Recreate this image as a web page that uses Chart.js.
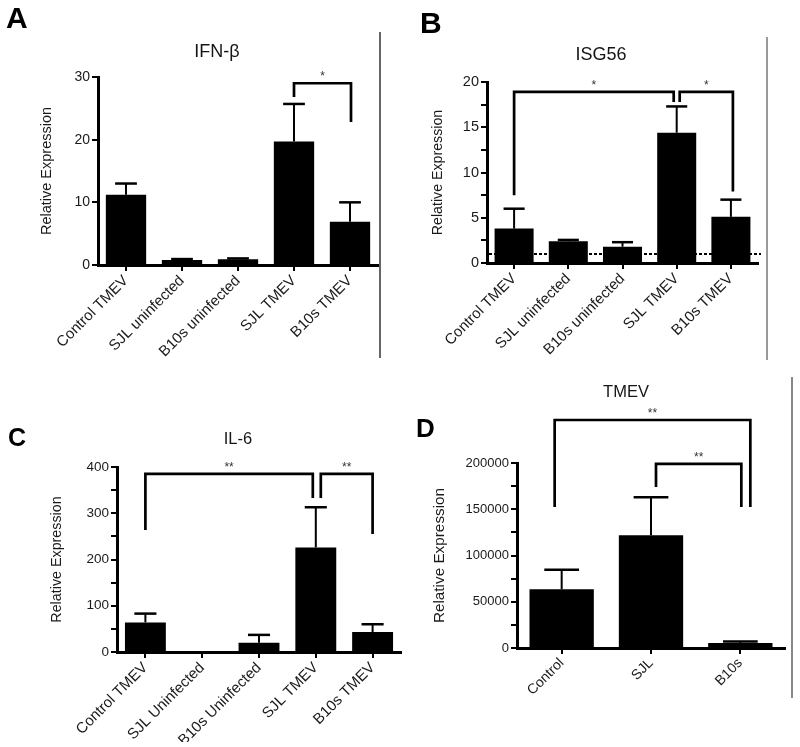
<!DOCTYPE html>
<html><head><meta charset="utf-8">
<script src="https://cdn.jsdelivr.net/npm/chart.js@4.4.1/dist/chart.umd.min.js"></script>
<style>
html,body{margin:0;padding:0;background:#fff;width:800px;height:747px;overflow:hidden;}
body{position:relative;font-family:"Liberation Sans",Arial,Helvetica,sans-serif;}
canvas{position:absolute;}
.txt{position:absolute;line-height:1;white-space:nowrap;color:#151515;}
.letter{font-weight:bold;color:#000;}
.vline{position:absolute;width:2px;}
</style></head><body>
<script>
// ---------- data ----------
const catsIFN = ['Control TMEV','SJL uninfected','B10s uninfected','SJL TMEV','B10s TMEV'];
const ifnbMean = [11.2, 0.8, 0.9, 19.7, 6.9];
const ifnbErr  = [1.8, 0.15, 0.15, 6.0, 3.1];
const ifnbTicks = [0, 10, 20, 30];

const catsISG = ['Control TMEV','SJL uninfected','B10s uninfected','SJL TMEV','B10s TMEV'];
const isg56Mean = [3.8, 2.4, 1.8, 14.4, 5.1];
const isg56Err  = [2.2, 0.15, 0.5, 2.9, 1.9];
const isg56Ticks = [0, 5, 10, 15, 20];
const isg56Baseline = 1;

const catsIL6 = ['Control TMEV','SJL Uninfected','B10s Uninfected','SJL TMEV','B10s TMEV'];
const il6Mean = [64, 0, 20, 226, 43];
const il6Err  = [19, 0, 17, 87, 17];
const il6Ticks = [0, 100, 200, 300, 400];

const catsTMEV = ['Control','SJL','B10s'];
const tmevMean = [63500, 122000, 5500];
const tmevErr  = [21000, 41000, 1500];
const tmevTicks = [0, 50000, 100000, 150000, 200000];

const FONT = '"Liberation Sans", Arial, Helvetica, sans-serif';

// ---------- plugins ----------
const annotPlugin = {
  id: 'annot',
  beforeDatasetsDraw(chart) {
    const cfg = chart.options.plugins.annot;
    if (cfg.refLine === undefined) return;
    const ctx = chart.ctx, ys = chart.scales.y, a = chart.chartArea;
    const y = ys.getPixelForValue(cfg.refLine);
    ctx.save();
    ctx.strokeStyle = '#000'; ctx.lineWidth = 2; ctx.setLineDash([3, 2]);
    ctx.beginPath(); ctx.moveTo(a.left + 2, y); ctx.lineTo(a.right + 3, y); ctx.stroke();
    ctx.restore();
  },
  afterDatasetsDraw(chart) {
    const cfg = chart.options.plugins.annot;
    const ctx = chart.ctx, ys = chart.scales.y;
    const meta = chart.getDatasetMeta(0);
    const vals = chart.data.datasets[0].data;
    ctx.save();
    ctx.strokeStyle = '#000';
    meta.data.forEach((bar, i) => {
      const e = cfg.err[i];
      if (!e) return;
      const top = ys.getPixelForValue(vals[i] + e);
      ctx.lineWidth = 2;
      ctx.beginPath(); ctx.moveTo(bar.x, bar.y); ctx.lineTo(bar.x, top); ctx.stroke();
      const hw = bar.width * 0.27;
      ctx.lineWidth = 2.5;
      ctx.beginPath(); ctx.moveTo(bar.x - hw, top); ctx.lineTo(bar.x + hw, top); ctx.stroke();
    });
    (cfg.brackets || []).forEach(b => {
      const x1 = meta.data[b.from].x + (b.dx1 || 0);
      const x2 = meta.data[b.to].x + (b.dx2 || 0);
      const yt = ys.getPixelForValue(b.top);
      ctx.lineWidth = 2.7; ctx.lineJoin = 'miter'; ctx.lineCap = 'butt';
      ctx.beginPath();
      ctx.moveTo(x1, ys.getPixelForValue(b.y1));
      ctx.lineTo(x1, yt); ctx.lineTo(x2, yt);
      ctx.lineTo(x2, ys.getPixelForValue(b.y2));
      ctx.stroke();
      ctx.fillStyle = '#333';
      ctx.font = '12px ' + FONT;
      ctx.textAlign = 'center'; ctx.textBaseline = 'alphabetic';
      ctx.fillText(b.label, (x1 + x2) / 2, yt - 3);
    });
    ctx.restore();
  }
};

function addText(text, x, y, size, cls, center) {
  const d = document.createElement('div');
  d.className = 'txt ' + (cls || '');
  d.textContent = text;
  d.style.fontSize = size + 'px';
  d.style.top = y + 'px';
  if (center) { d.style.left = (x - 200) + 'px'; d.style.width = '400px'; d.style.textAlign = 'center'; }
  else d.style.left = x + 'px';
  document.body.appendChild(d);
}
function addVLine(x, y, h, color) {
  const d = document.createElement('div');
  d.className = 'vline';
  d.style.left = x + 'px'; d.style.top = y + 'px'; d.style.height = h + 'px'; d.style.background = color;
  document.body.appendChild(d);
}

function panel(p) {
  const c = document.createElement('canvas');
  c.width = p.w; c.height = p.h;
  c.style.left = p.x + 'px'; c.style.top = p.y + 'px';
  c.style.width = p.w + 'px'; c.style.height = p.h + 'px';
  document.body.appendChild(c);
  const gridOpts = { drawOnChartArea: false, color: '#000', lineWidth: 2, tickLength: 6 };
  const isMajor = v => p.major.some(m => Math.abs(m - v) < 1e-6);
  new Chart(c, {
    type: 'bar',
    data: { labels: p.labels, datasets: [{ data: p.values, backgroundColor: '#000', borderWidth: 0,
      barPercentage: 0.72, categoryPercentage: 1 }] },
    options: {
      responsive: false, animation: false, devicePixelRatio: 1,
      layout: { padding: { left: 0, top: p.area.t, right: p.w - p.area.r, bottom: p.h - p.area.b - p.xH } },
      plugins: { legend: { display: false }, tooltip: { enabled: false }, title: { display: false },
        annot: { err: p.err, brackets: p.brackets, refLine: p.refLine } },
      scales: {
        x: {
          grid: Object.assign({ offset: false }, gridOpts),
          border: { color: '#000', width: 3 },
          ticks: { autoSkip: false, minRotation: 45, maxRotation: 45, padding: 1, color: '#1a1a1a',
            font: { family: FONT, size: p.xFont } },
          afterFit: s => { s.height = p.xH; }
        },
        y: {
          min: 0, max: p.max,
          grid: gridOpts,
          border: { color: '#000', width: 3 },
          ticks: { stepSize: p.step, padding: 2, color: '#1a1a1a', font: { family: FONT, size: p.yFont },
            callback: v => isMajor(v) ? String(v) : '' },
          title: { display: true, text: 'Relative Expression', color: '#1a1a1a',
            font: { family: FONT, size: p.yTitleFont }, padding: { top: p.yTitleX - p.yTitleFont * 0.6, bottom: 0 } },
          afterFit: s => { s.width = p.area.l; }
        }
      }
    },
    plugins: [annotPlugin]
  });
}

// Panel A
panel({ x: 0, y: 0, w: 400, h: 380, area: { l: 98, r: 378, t: 77, b: 265 }, xH: 100,
  labels: catsIFN, values: ifnbMean, err: ifnbErr, max: 30, step: 10, major: ifnbTicks,
  xFont: 15, yFont: 14, yTitleFont: 14.5, yTitleX: 47,
  brackets: [{ from: 3, to: 4, top: 29.0, y1: 26.8, y2: 22.8, dx1: 0, dx2: 1, label: '*' }] });

// Panel B
panel({ x: 400, y: 0, w: 400, h: 380, area: { l: 87, r: 358, t: 82, b: 263 }, xH: 100,
  labels: catsISG, values: isg56Mean, err: isg56Err, max: 20, step: 2.5, major: isg56Ticks,
  xFont: 15, yFont: 14.5, yTitleFont: 14.2, yTitleX: 38, refLine: isg56Baseline,
  brackets: [{ from: 0, to: 3, top: 18.9, y1: 7.5, y2: 17.8, dx1: 0, dx2: -3, label: '*' },
             { from: 3, to: 4, top: 18.9, y1: 17.8, y2: 7.9, dx1: 3, dx2: 2, label: '*' }] });

// Panel C
panel({ x: 0, y: 380, w: 410, h: 367, area: { l: 117, r: 401, t: 87, b: 272 }, xH: 90,
  labels: catsIL6, values: il6Mean, err: il6Err, max: 400, step: 50, major: il6Ticks,
  xFont: 15, yFont: 13.5, yTitleFont: 14.3, yTitleX: 57,
  brackets: [{ from: 0, to: 3, top: 385, y1: 264, y2: 333, dx1: 0, dx2: -3, label: '**' },
             { from: 3, to: 4, top: 385, y1: 333, y2: 255, dx1: 5, dx2: 0, label: '**' }] });

// Panel D
panel({ x: 400, y: 370, w: 400, h: 377, area: { l: 117, r: 385, t: 93, b: 278 }, xH: 90,
  labels: catsTMEV, values: tmevMean, err: tmevErr, max: 200000, step: 25000, major: tmevTicks,
  xFont: 14, yFont: 13, yTitleFont: 15.3, yTitleX: 40,
  brackets: [{ from: 0, to: 2, top: 246500, y1: 152400, y2: 152400, dx1: -7, dx2: 10, label: '**' },
             { from: 1, to: 2, top: 199000, y1: 174000, y2: 152400, dx1: 5, dx2: 1, label: '**' }] });

// Panel letters and titles
addText('A', 6, 3, 30, 'letter');
addText('B', 420, 8, 30, 'letter');
addText('C', 8, 425, 25, 'letter');
addText('D', 416, 415, 26, 'letter');
addText('IFN-β', 217, 41.7, 18, '', true);
addText('ISG56', 601, 44.7, 18, '', true);
addText('IL-6', 238, 429.5, 16.5, '', true);
addText('TMEV', 626, 383, 16.5, '', true);

// divider lines
addVLine(379, 32, 326, '#666');
addVLine(766, 37, 323, '#999');
addVLine(791, 377, 321, '#888');
</script>
</body></html>
